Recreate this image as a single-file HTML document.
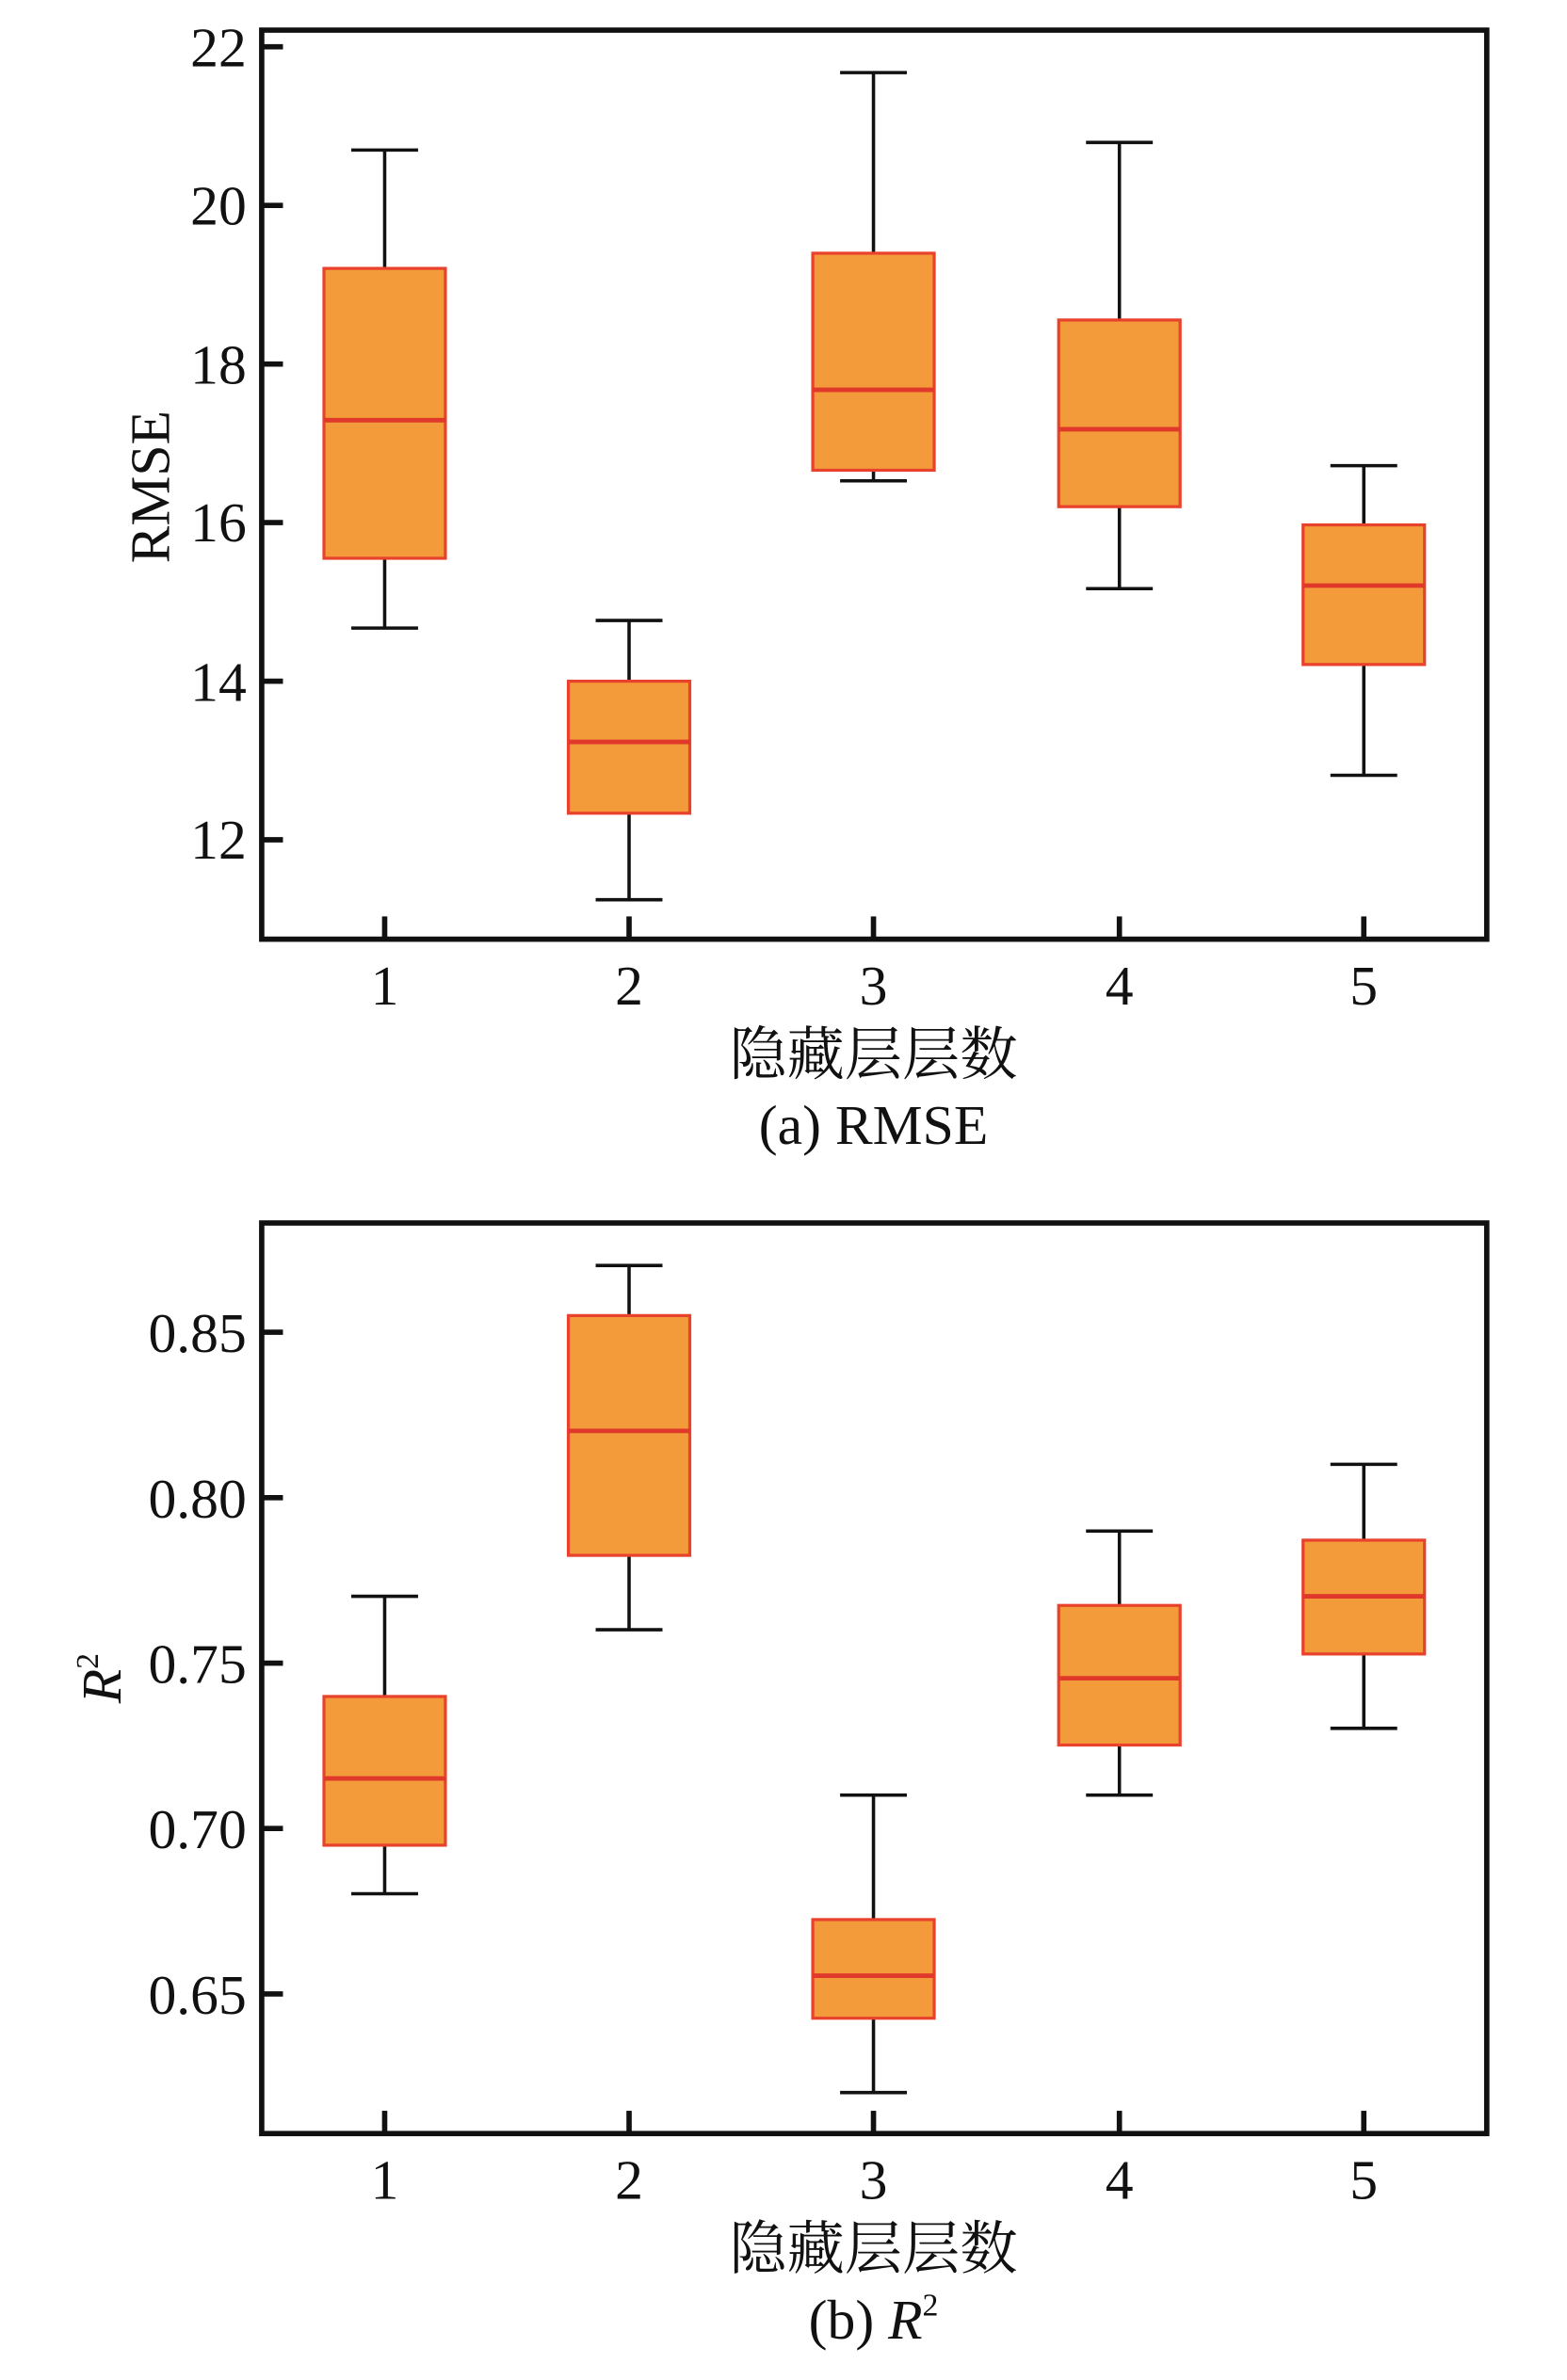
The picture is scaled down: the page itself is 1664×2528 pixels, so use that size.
<!DOCTYPE html>
<html><head><meta charset="utf-8"><style>html,body{margin:0;padding:0;background:#fff}svg{display:block}</style></head>
<body>
<svg width="1664" height="2528" viewBox="0 0 1024 1555.7" preserveAspectRatio="none" xmlns="http://www.w3.org/2000/svg" font-family="'Liberation Serif','Noto Serif CJK SC',serif" fill="#111">
<g transform="translate(0.4,0.85) scale(0.992)">
<g id="a">
<g stroke="#111" stroke-width="2.2">
<line x1="253" y1="98" x2="253" y2="176"/><line x1="253" y1="367" x2="253" y2="413"/><line x1="231" y1="98" x2="275" y2="98"/><line x1="231" y1="413" x2="275" y2="413"/>
<line x1="414" y1="408" x2="414" y2="448"/><line x1="414" y1="535" x2="414" y2="592"/><line x1="392" y1="408" x2="436" y2="408"/><line x1="392" y1="592" x2="436" y2="592"/>
<line x1="575" y1="47" x2="575" y2="166"/><line x1="575" y1="309" x2="575" y2="316"/><line x1="553" y1="47" x2="597" y2="47"/><line x1="553" y1="316" x2="597" y2="316"/>
<line x1="737" y1="93" x2="737" y2="210"/><line x1="737" y1="333" x2="737" y2="387"/><line x1="715" y1="93" x2="759" y2="93"/><line x1="715" y1="387" x2="759" y2="387"/>
<line x1="898" y1="306" x2="898" y2="345"/><line x1="898" y1="437" x2="898" y2="510"/><line x1="876" y1="306" x2="920" y2="306"/><line x1="876" y1="510" x2="920" y2="510"/>
</g>
<g fill="#f39a3b" stroke="#e8412c" stroke-width="2">
<rect x="213" y="176" width="80" height="191"/><rect x="374" y="448" width="80" height="87"/><rect x="535" y="166" width="80" height="143"/><rect x="697" y="210" width="80" height="123"/><rect x="858" y="345" width="80" height="92"/>
</g>
<g stroke="#e0392b" stroke-width="3">
<line x1="213" y1="276" x2="293" y2="276"/><line x1="374" y1="488" x2="454" y2="488"/><line x1="535" y1="256" x2="615" y2="256"/><line x1="697" y1="282" x2="777" y2="282"/><line x1="858" y1="385" x2="938" y2="385"/>
</g>
<rect x="172" y="19" width="807" height="599" fill="none" stroke="#111" stroke-width="3.5"/>
<g stroke="#111" stroke-width="3.5">
<line x1="172" y1="30" x2="186" y2="30"/><line x1="172" y1="134.5" x2="186" y2="134.5"/><line x1="172" y1="239" x2="186" y2="239"/><line x1="172" y1="343.5" x2="186" y2="343.5"/><line x1="172" y1="448" x2="186" y2="448"/><line x1="172" y1="552.5" x2="186" y2="552.5"/>
<line x1="253" y1="618" x2="253" y2="603"/><line x1="414" y1="618" x2="414" y2="603"/><line x1="575" y1="618" x2="575" y2="603"/><line x1="737" y1="618" x2="737" y2="603"/><line x1="898" y1="618" x2="898" y2="603"/>
</g>
<g font-size="37" text-anchor="end">
<text x="162" y="43">22</text><text x="162" y="147">20</text><text x="162" y="252">18</text><text x="162" y="356">16</text><text x="162" y="461">14</text><text x="162" y="565">12</text>
</g>
<g font-size="37" text-anchor="middle">
<text x="253" y="661">1</text><text x="414" y="661">2</text><text x="575" y="661">3</text><text x="737" y="661">4</text><text x="898" y="661">5</text>
<text x="575" y="707" font-size="38">隐藏层层数</text>
<text x="575" y="753" font-size="37">(a) RMSE</text>
<text transform="translate(111,320) rotate(-90)" font-size="37">RMSE</text>
</g>
</g>
<g id="b">
<g stroke="#111" stroke-width="2.2">
<line x1="253" y1="1051" x2="253" y2="1117"/><line x1="253" y1="1215" x2="253" y2="1247"/><line x1="231" y1="1051" x2="275" y2="1051"/><line x1="231" y1="1247" x2="275" y2="1247"/>
<line x1="414" y1="833" x2="414" y2="866"/><line x1="414" y1="1024" x2="414" y2="1073"/><line x1="392" y1="833" x2="436" y2="833"/><line x1="392" y1="1073" x2="436" y2="1073"/>
<line x1="575" y1="1182" x2="575" y2="1264"/><line x1="575" y1="1329" x2="575" y2="1378"/><line x1="553" y1="1182" x2="597" y2="1182"/><line x1="553" y1="1378" x2="597" y2="1378"/>
<line x1="737" y1="1008" x2="737" y2="1057"/><line x1="737" y1="1149" x2="737" y2="1182"/><line x1="715" y1="1008" x2="759" y2="1008"/><line x1="715" y1="1182" x2="759" y2="1182"/>
<line x1="898" y1="964" x2="898" y2="1014"/><line x1="898" y1="1089" x2="898" y2="1138"/><line x1="876" y1="964" x2="920" y2="964"/><line x1="876" y1="1138" x2="920" y2="1138"/>
</g>
<g fill="#f39a3b" stroke="#e8412c" stroke-width="2">
<rect x="213" y="1117" width="80" height="98"/><rect x="374" y="866" width="80" height="158"/><rect x="535" y="1264" width="80" height="65"/><rect x="697" y="1057" width="80" height="92"/><rect x="858" y="1014" width="80" height="75"/>
</g>
<g stroke="#e0392b" stroke-width="3">
<line x1="213" y1="1171" x2="293" y2="1171"/><line x1="374" y1="942" x2="454" y2="942"/><line x1="535" y1="1301" x2="615" y2="1301"/><line x1="697" y1="1105" x2="777" y2="1105"/><line x1="858" y1="1051" x2="938" y2="1051"/>
</g>
<rect x="172" y="805" width="807" height="600" fill="none" stroke="#111" stroke-width="3.5"/>
<g stroke="#111" stroke-width="3.5">
<line x1="172" y1="877" x2="186" y2="877"/><line x1="172" y1="986" x2="186" y2="986"/><line x1="172" y1="1095" x2="186" y2="1095"/><line x1="172" y1="1204" x2="186" y2="1204"/><line x1="172" y1="1313" x2="186" y2="1313"/>
<line x1="253" y1="1405" x2="253" y2="1390"/><line x1="414" y1="1405" x2="414" y2="1390"/><line x1="575" y1="1405" x2="575" y2="1390"/><line x1="737" y1="1405" x2="737" y2="1390"/><line x1="898" y1="1405" x2="898" y2="1390"/>
</g>
<g font-size="37" text-anchor="end">
<text x="162" y="890">0.85</text><text x="162" y="999">0.80</text><text x="162" y="1108">0.75</text><text x="162" y="1217">0.70</text><text x="162" y="1326">0.65</text>
</g>
<g font-size="37" text-anchor="middle">
<text x="253" y="1448">1</text><text x="414" y="1448">2</text><text x="575" y="1448">3</text><text x="737" y="1448">4</text><text x="898" y="1448">5</text>
<text x="575" y="1494" font-size="38">隐藏层层数</text>
<text x="575" y="1540" font-size="37">(b) <tspan font-style="italic">R</tspan><tspan font-size="21" dy="-15">2</tspan></text>
<text transform="translate(79,1105) rotate(-90)" font-size="37"><tspan font-style="italic">R</tspan><tspan font-size="21" dy="-15">2</tspan></text>
</g>
</g>
</g>
</svg>
</body></html>
